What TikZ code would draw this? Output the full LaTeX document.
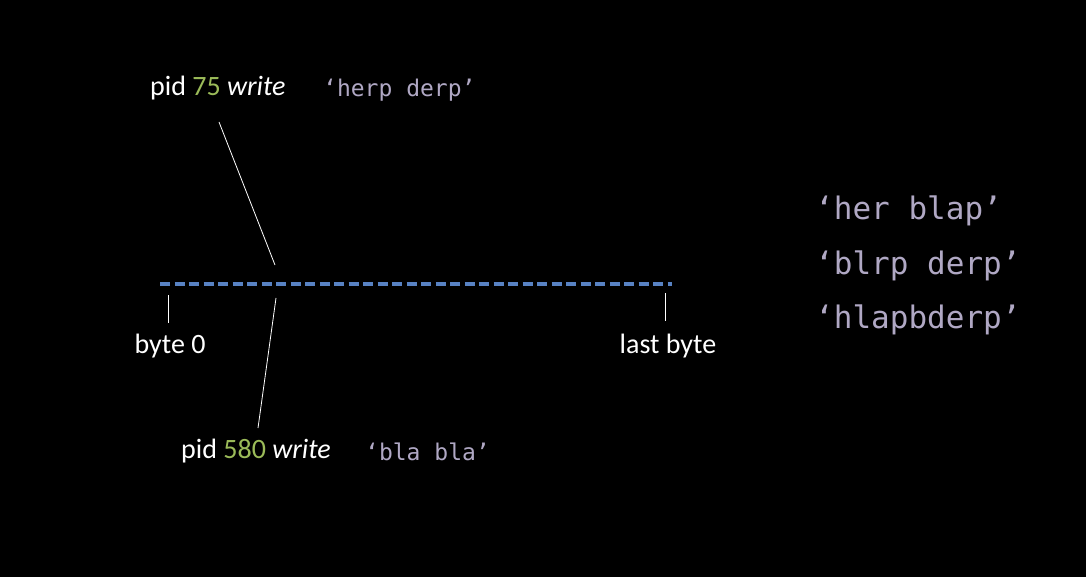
\documentclass[tikz,border=0pt]{standalone}
\usepackage{fontspec}
\setmainfont{Carlito}
\newfontfamily\monofont{DejaVu Sans Mono}
\definecolor{pidgreen}{RGB}{155,187,89}
\definecolor{strgray}{RGB}{176,168,196}
\definecolor{lineblue}{RGB}{88,130,195}
\begin{document}
\begin{tikzpicture}[x=1pt,y=-1pt,
    lbl/.style = {text=white, font=\fontsize{28}{31}\selectfont, inner sep=0pt},
    str/.style = {text=strgray, font=\monofont\fontsize{23}{26}\selectfont, inner sep=0pt, anchor=west},
    big/.style = {text=strgray, font=\monofont\fontsize{31}{34}\selectfont, inner sep=0pt, anchor=west},
    thin/.style = {draw=white, line width=0.8pt}]
    \fill[black] (0,0) rectangle (1086,577);
    \useasboundingbox (0,0) rectangle (1086,577);
    \node[lbl, anchor=west] (w1) at (150,88) {pid \textcolor{pidgreen}{75} \textit{write}};
    \node[str] (s1) at (323,90) {‘herp derp’};
    \node[lbl, anchor=west] (w2) at (181,451) {pid \textcolor{pidgreen}{580} \textit{write}};
    \node[str] (s2) at (365,452) {‘bla bla’};
    \node[lbl] (b0) at (170,346) {byte 0};
    \node[lbl] (bl) at (668,346) {last byte};
    \node[big] (r1) at (815,211) {‘her blap’};
    \node[big] (r2) at (815,266) {‘blrp derp’};
    \node[big] (r3) at (815,320) {‘hlapbderp’};
    \coordinate (f0) at (160,284);
    \coordinate (f1) at (672,284);
    \coordinate (t0a) at (168,295);
    \coordinate (t0b) at (168,323);
    \coordinate (t1a) at (665,293);
    \coordinate (t1b) at (665,321);
    \coordinate (u0) at (219,122);
    \coordinate (u1) at (275,265);
    \coordinate (d0) at (276,298);
    \coordinate (d1) at (258,428);
    \draw[lineblue, line width=3.5pt, dash pattern=on 10pt off 4.5pt] (f0) -- (f1);
    \draw[thin] (t0a) -- (t0b);
    \draw[thin] (t1a) -- (t1b);
    \draw[thin] (u0) -- (u1);
    \draw[thin] (d0) -- (d1);
\end{tikzpicture}
\end{document}
